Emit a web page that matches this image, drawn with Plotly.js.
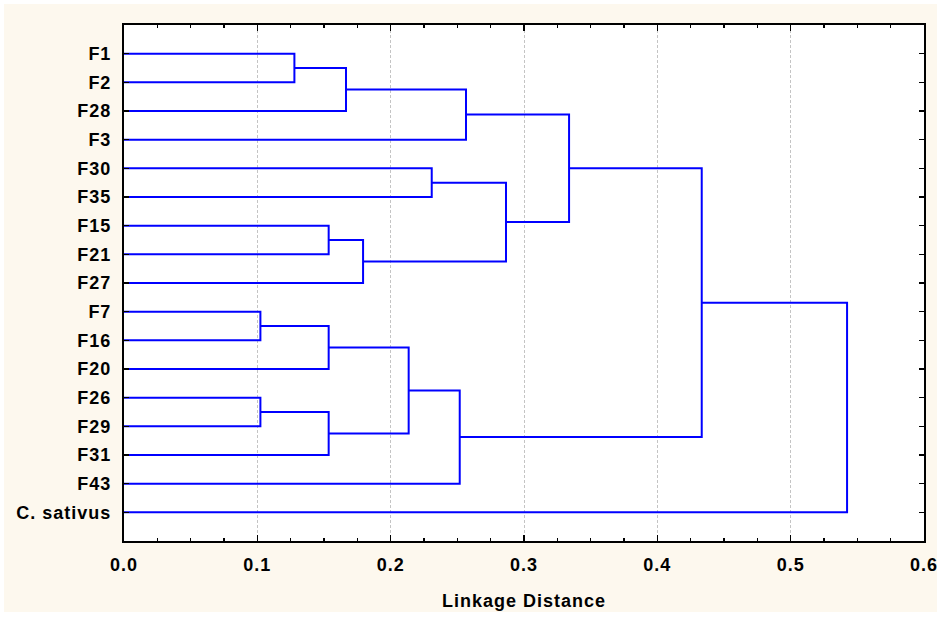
<!DOCTYPE html>
<html>
<head>
<meta charset="utf-8">
<script src="https://cdn.plot.ly/plotly-3.0.1.min.js"></script>
<style>
  html, body { margin: 0; padding: 0; background: #ffffff; }
  #chart { width: 943px; height: 618px; }
  #chart .xtick text, #chart .ytick text, #chart .xtitle { letter-spacing: 1px; }
</style>
</head>
<body>
<div id="chart"></div>
<script>
// Leaves, top to bottom
var leafLabels = ["F1", "F2", "F28", "F3", "F30", "F35", "F15", "F21", "F27",
                  "F7", "F16", "F20", "F26", "F29", "F31", "F43", "C. sativus"];

// Linkage (scipy-style): ids < 17 are leaves, ids >= 17 are earlier merges
var mergeA      = [0, 17, 18, 4, 6, 21, 20, 19, 9, 25, 12, 27, 26, 29, 24, 31];
var mergeB      = [1, 2, 3, 5, 7, 8, 22, 23, 10, 11, 13, 14, 28, 15, 30, 16];
var mergeHeight = [0.1278, 0.1665, 0.2565, 0.2308, 0.1535, 0.1793, 0.2865, 0.3338,
                   0.1023, 0.1535, 0.1023, 0.1535, 0.2135, 0.2518, 0.4333, 0.5423];

var xTickVals = [0, 0.1, 0.2, 0.3, 0.4, 0.5, 0.6];

// Build dendrogram path from linkage
var n = leafLabels.length;
var nodeH = [], nodeY = [];
for (var i = 0; i < n; i++) { nodeH.push(0); nodeY.push(i); }
var xs = [], ys = [];
for (var k = 0; k < mergeA.length; k++) {
  var a = mergeA[k], b = mergeB[k], h = mergeHeight[k];
  xs.push(nodeH[a], h, h, nodeH[b], null);
  ys.push(nodeY[a], nodeY[a], nodeY[b], nodeY[b], null);
  nodeH.push(h);
  nodeY.push((nodeY[a] + nodeY[b]) / 2);
}

var font = { family: "Liberation Sans, Arial, sans-serif", size: 18, color: "#000000", weight: 700 };

var trace = {
  type: "scatter", mode: "lines",
  x: xs, y: ys, connectgaps: false,
  line: { color: "#0000ff", width: 2 },
  hoverinfo: "skip", showlegend: false
};

var L = 124, R = 19, T = 25, B = 77, W = 943, H = 618;
var pw = W - L - R, ph = H - T - B;
function px(x) { return (x - L) / pw; }
function py(y) { return (H - B - y) / ph; }

var layout = {
  width: W, height: H,
  margin: { l: L, r: R, t: T, b: B, pad: 0 },
  paper_bgcolor: "#ffffff",
  plot_bgcolor: "#ffffff",
  font: font,
  showlegend: false,
  shapes: [
    { type: "rect", xref: "paper", yref: "paper", layer: "below",
      x0: px(4), x1: px(937), y0: py(612), y1: py(4),
      fillcolor: "#fdf8ee", line: { width: 0 } },
    { type: "rect", xref: "paper", yref: "paper", layer: "below",
      x0: 0, x1: 1, y0: 0, y1: 1,
      fillcolor: "#ffffff", line: { width: 0 } }
  ],
  xaxis: {
    range: [0, 0.6], autorange: false,
    tickvals: xTickVals, tickformat: ".1f",
    ticks: "inside", ticklen: 6, tickwidth: 1.5, tickcolor: "#000000",
    minor: { dtick: 0.025, tick0: 0, ticks: "inside", ticklen: 3, tickwidth: 1.5, tickcolor: "#000000", showgrid: false },
    showgrid: true, gridcolor: "#c4c4c4", gridwidth: 1, griddash: "3px,2px",
    zeroline: false,
    showline: true, linecolor: "#000000", linewidth: 2, mirror: "ticks",
    tickfont: font, ticklabelstandoff: 6,
    title: { text: "Linkage Distance", font: font, standoff: 21 }
  },
  yaxis: {
    range: [n, -1], autorange: false,
    tickmode: "array",
    tickvals: leafLabels.map(function (_, i) { return i; }),
    ticktext: leafLabels,
    ticks: "inside", ticklen: 5, tickwidth: 1.5, tickcolor: "#000000",
    showgrid: false, zeroline: false,
    showline: true, linecolor: "#000000", linewidth: 2, mirror: "ticks",
    tickfont: font, ticklabelstandoff: 7
  }
};

Plotly.newPlot("chart", [trace], layout, { displayModeBar: false, staticPlot: true });
</script>
</body>
</html>
